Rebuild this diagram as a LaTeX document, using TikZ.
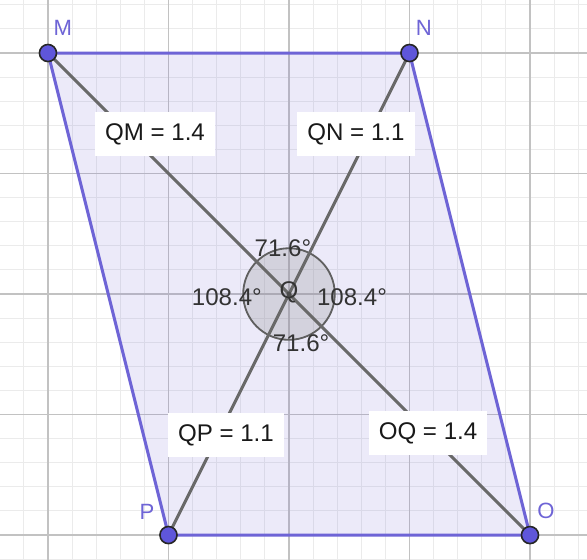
\documentclass[tikz,border=0pt]{standalone}
\usepackage{fontspec}
\setmainfont{Liberation Sans}
\definecolor{ggbpurple}{RGB}{110, 100, 214}
\definecolor{ggbpoint}{RGB}{95, 86, 218}
\definecolor{ggbgray}{RGB}{105, 105, 105}
\usetikzlibrary{positioning}

\begin{document}
\begin{tikzpicture}[
        x=60pt, y=60pt,
        font=\fontsize{12}{14}\selectfont,
        minorgrid/.style={black!8, line width=0.5pt},
        majorgrid/.style={black!24, line width=0.6pt},
        edge/.style={ggbpurple, line width=1.5pt},
        diag/.style={ggbgray, line width=1.5pt},
        ptdot/.style={circle, draw=black!85, fill=ggbpoint, line width=0.8pt, minimum size=8.5pt, inner sep=0pt},
        ptlabel/.style={text=ggbpurple, font=\fontsize{11}{13}\selectfont},
        lenbox/.style={fill=white, text=black!90, inner xsep=5pt, minimum height=22pt},
        anglabel/.style={text=black!80}
    ]
        % Frame and grid
        \useasboundingbox (-0.398,-0.199) rectangle (4.473,4.440);
        \clip (-0.398,-0.199) rectangle (4.473,4.440);
        \fill[white] (-0.398,-0.199) rectangle (4.473,4.440);
        \draw[minorgrid] (-1,-1) grid[step=0.2] (5,5);
        \draw[majorgrid] (-1,-1) grid[step=1] (5,5);

        % Points
        \coordinate (M) at (0,4);
        \coordinate (N) at (3,4);
        \coordinate (O) at (4,0);
        \coordinate (P) at (1,0);
        \coordinate (Q) at (2,2);

        % Parallelogram
        \fill[ggbpurple, fill opacity=0.13] (M) -- (N) -- (O) -- (P) -- cycle;

        % Angles at Q
        \fill[black!45, fill opacity=0.25] (Q) circle[radius=0.38];
        \draw[ggbgray!90!black, line width=0.9pt] (Q) circle[radius=0.38];

        % Diagonals
        \draw[diag] (M) -- (O);
        \draw[diag] (N) -- (P);

        % Sides
        \draw[edge] (M) -- (N) -- (O) -- (P) -- cycle;

        % Lengths
        \node[lenbox] (qm) at (0.888,3.328) {QM = 1.4};
        \node[lenbox] (qn) at (2.556,3.328) {QN = 1.1};
        \node[lenbox] (qp) at (1.477,0.830) {QP = 1.1};
        \node[lenbox] (oq) at (3.154,0.846) {OQ = 1.4};

        % Angle values
        \node[anglabel] (atop) at (1.95,2.38) {71.6°};
        \node[anglabel] (abot) at (2.10,1.593) {71.6°};
        \node[anglabel] (aleft) at (1.485,1.975) {108.4°};
        \node[anglabel] (aright) at (2.523,1.975) {108.4°};

        % Point markers and names
        \fill[black!70] (Q) circle[radius=1.2pt];
        \node[anglabel] (qlab) at (2.0,2.01) {Q};
        \node[ptdot] (Mdot) at (M) {};
        \node[ptdot] (Ndot) at (N) {};
        \node[ptdot] (Odot) at (O) {};
        \node[ptdot] (Pdot) at (P) {};
        \node[ptlabel] (mlab) at (0.124,4.207) {M};
        \node[ptlabel] (nlab) at (3.12,4.207) {N};
        \node[ptlabel] (olab) at (4.133,0.199) {O};
        \node[ptlabel] (plab) at (0.822,0.191) {P};
\end{tikzpicture}
\end{document}
